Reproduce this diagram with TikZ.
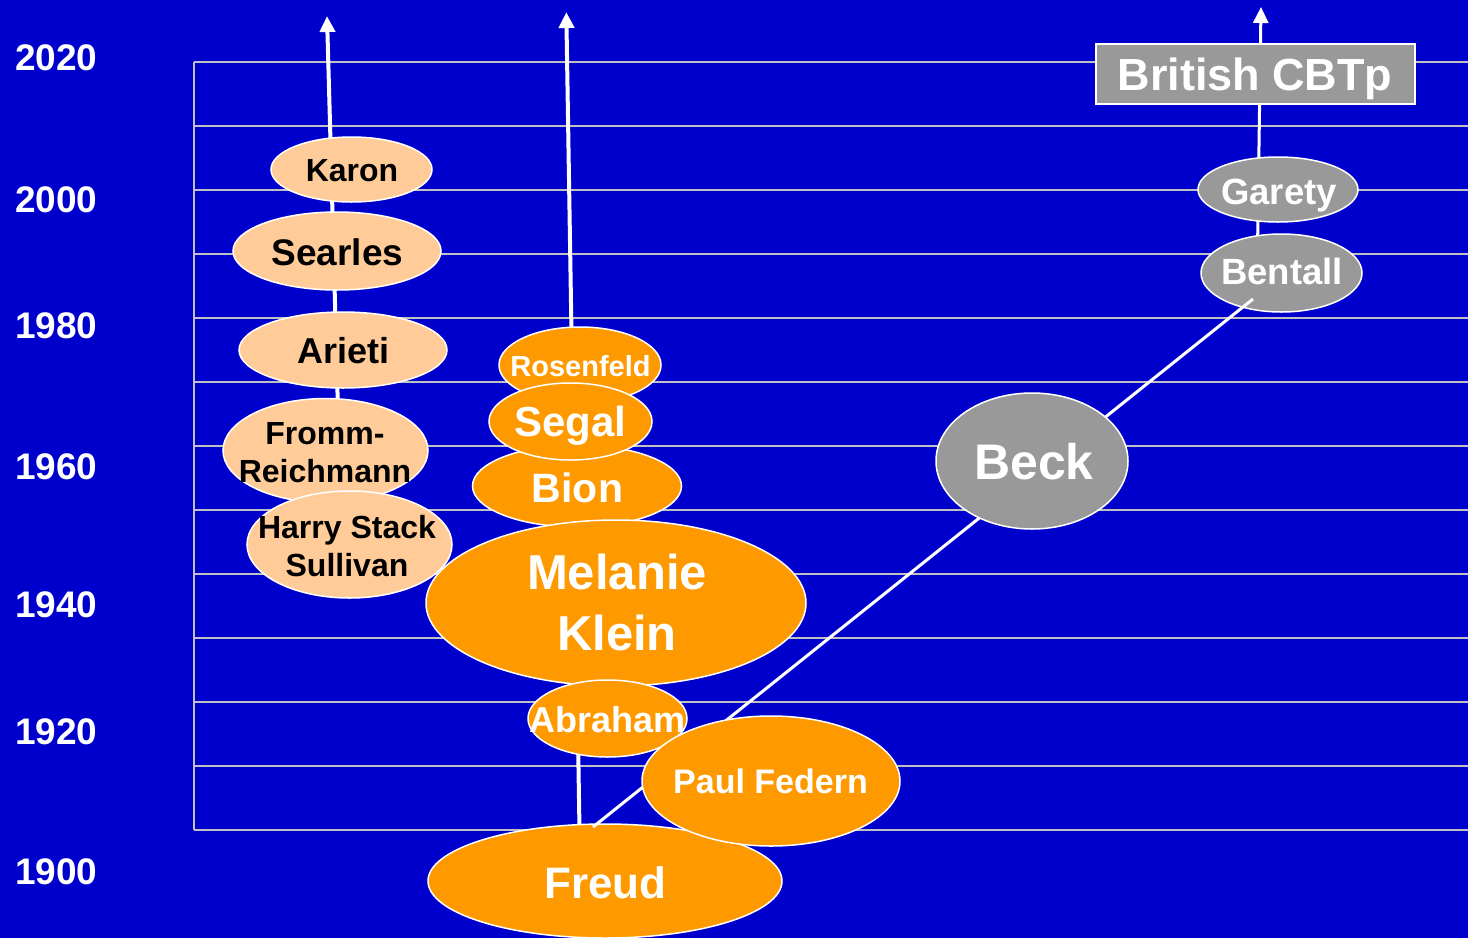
\documentclass[tikz,border=0pt]{standalone}
\usepackage{fontspec}
\setmainfont{Liberation Sans}
\usetikzlibrary{shapes.geometric,arrows.meta}
\definecolor{bg}{RGB}{0,0,204}
\definecolor{gridgrey}{RGB}{192,192,192}
\definecolor{orng}{RGB}{255,153,0}
\definecolor{peach}{RGB}{255,204,153}
\definecolor{cbtgrey}{RGB}{153,153,153}
\newcommand\fsz[2]{\fontsize{#1pt}{#2pt}\selectfont\bfseries}
\tikzset{
  gridline/.style={gridgrey, line width=2pt},
  bubble/.style={ellipse, draw=white, line width=1.5pt, inner sep=0pt, outer sep=0pt},
  psy/.style={bubble, fill=orng},
  inter/.style={bubble, fill=peach},
  cbt/.style={bubble, fill=cbtgrey},
  lbl/.style={inner sep=0pt, text depth=0pt, white},
  lblk/.style={inner sep=0pt, text depth=0pt, black},
  mlbl/.style={inner sep=0pt, align=center},
  year/.style={inner sep=0pt, text depth=0pt, anchor=west, white, font=\fsz{37}{40}},
  stem/.style={white, -{Triangle[width=15pt,length=16pt]}},
  link/.style={white, line width=3pt}
}
\begin{document}
\begin{tikzpicture}[x=1pt,y=-1pt]
\fill[bg] (0,0) rectangle (1468,938);
\useasboundingbox (0,0) rectangle (1468,938);

% decade grid
\foreach \k in {0,...,12}
  \draw[gridline] (194,62+64*\k) -- (1468,62+64*\k);
\draw[gridline] (194,62) -- (194,830);

% year labels
\foreach \yr/\yy in {2020/58,2000/199.5,1980/326,1960/467,1940/605,1920/732,1900/872}
  \node[year] (y\yr) at (15,\yy) {\yr};

% lineage stems with arrows
\coordinate (lbot) at (340.5,500);
\coordinate (ltop) at (327,16);
\draw[stem, line width=4pt] (lbot) -- (ltop);
\coordinate (mbot) at (579.5,830);
\coordinate (mtop) at (566.3,12);
\draw[stem, line width=4pt] (mbot) -- (mtop);
\coordinate (rbot) at (1257.5,250);
\coordinate (rtop) at (1261,7);
\draw[stem, line width=3pt] (rbot) -- (rtop);

% CBT branch
\node[cbt, minimum width=160pt, minimum height=65pt] (garety) at (1278,189.5) {};
\node[lbl, font=\fsz{36.5}{40}] (garety-t) at (1279,191.5) {Garety};
\node[cbt, minimum width=161pt, minimum height=78pt] (bentall) at (1281.5,273) {};
\node[lbl, font=\fsz{36.5}{40}] (bentall-t) at (1282,271.5) {Bentall};
\node[draw=white, line width=1.5pt, fill=cbtgrey, minimum width=319pt, minimum height=60pt, inner sep=0pt] (cbtp) at (1255.5,74) {};
\node[lbl, font=\fsz{45}{50}] (cbtp-t) at (1255,74.5) {British CBTp};

% Freud and the diagonal to Bentall
\node[psy, minimum width=354pt, minimum height=114pt] (freud) at (605,881) {};
\node[lbl, font=\fsz{44}{48}] (freud-t) at (605.5,883) {Freud};
\coordinate (dA) at (593,827);
\coordinate (dB) at (1253,299);
\draw[link] (dA) -- (dB);

% interpersonal column
\node[inter, minimum width=205pt, minimum height=104pt] (fromm) at (325.5,450.5) {};
\node[mlbl, black, font=\fsz{32}{38}] (fromm-t) at (325,453) {Fromm-\\Reichmann};
\node[inter, minimum width=205pt, minimum height=107pt] (sullivan) at (349.5,544.5) {};
\node[mlbl, black, font=\fsz{32}{38}] (sullivan-t) at (347,546) {Harry Stack\\Sullivan};
\node[inter, minimum width=161pt, minimum height=65pt] (karon) at (351.5,169.5) {};
\node[lblk, font=\fsz{32}{36}] (karon-t) at (352,170) {Karon};
\node[inter, minimum width=208pt, minimum height=78pt] (searles) at (337,251) {};
\node[lblk, font=\fsz{37}{40}] (searles-t) at (337.5,252.5) {Searles};
\node[inter, minimum width=208pt, minimum height=76pt] (arieti) at (343,350) {};
\node[lblk, font=\fsz{36}{40}] (arieti-t) at (343.5,350) {Arieti};

% Kleinian column
\node[psy, minimum width=209pt, minimum height=82pt] (bion) at (577,486) {};
\node[lbl, font=\fsz{41}{45}] (bion-t) at (577.5,487.5) {Bion};
\node[psy, minimum width=162pt, minimum height=76pt] (rosenfeld) at (580,365) {};
\node[lbl, font=\fsz{29}{32}] (rosenfeld-t) at (580.5,366) {Rosenfeld};
\node[psy, minimum width=163pt, minimum height=77pt] (segal) at (570.5,421.5) {};
\node[lbl, font=\fsz{42}{46}] (segal-t) at (570.5,421.5) {Segal};
\node[psy, minimum width=380pt, minimum height=166pt] (klein) at (616,603) {};
\node[mlbl, white, font=\fsz{49}{61}] (klein-t) at (617,602.5) {Melanie\\Klein};
\node[psy, minimum width=159pt, minimum height=77pt] (abraham) at (607.5,718.5) {};
\node[lbl, font=\fsz{36}{40}] (abraham-t) at (607.5,719.5) {Abraham};
\node[psy, minimum width=258pt, minimum height=130pt] (federn) at (771,781) {};
\node[lbl, font=\fsz{34}{38}] (federn-t) at (770.5,781.5) {Paul Federn};

% Beck
\node[cbt, minimum width=192pt, minimum height=136pt] (beck) at (1032,461) {};
\node[lbl, font=\fsz{50}{54}] (beck-t) at (1034,461.5) {Beck};
\end{tikzpicture}
\end{document}
